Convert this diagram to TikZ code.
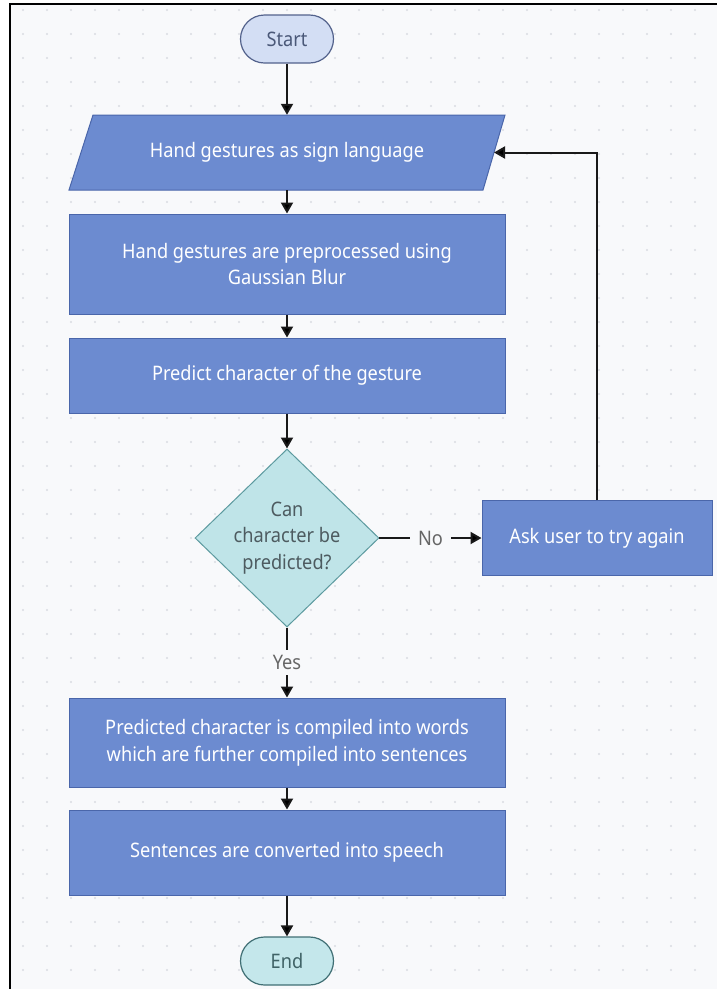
\documentclass[tikz,border=0pt]{standalone}
\usepackage{fontspec}
\setmainfont{Noto Sans}[FakeStretch=0.91]
\usetikzlibrary{shapes.geometric,arrows.meta}

\definecolor{paper}{HTML}{F8F9FB}
\definecolor{griddot}{HTML}{D9DCE2}
\definecolor{procfill}{HTML}{6C8BD0}
\definecolor{procline}{HTML}{4A66AA}
\definecolor{startfill}{HTML}{D3DEF4}
\definecolor{startline}{HTML}{53628C}
\definecolor{starttext}{HTML}{4A5878}
\definecolor{choicefill}{HTML}{BFE4E8}
\definecolor{choiceline}{HTML}{5C9A9F}
\definecolor{choicetext}{HTML}{4D5B60}
\definecolor{endfill}{HTML}{C4E7EB}
\definecolor{endline}{HTML}{406F74}
\definecolor{endtext}{HTML}{3F6266}

\begin{document}
\begin{tikzpicture}[x=1pt,y=-1pt,font=\fontsize{20}{26.7}\selectfont,
  proc/.style={rectangle,draw=procline,fill=procfill,text=white,line width=1pt,
               minimum width=436pt,align=center},
  io/.style={rectangle,text=white,minimum width=436pt,minimum height=75pt},
  term/.style={rectangle,rounded corners=24pt,minimum width=93pt,
               minimum height=48pt,line width=1.2pt},
  choice/.style={diamond,aspect=1.03,inner sep=0pt,minimum width=184pt,
                 minimum height=178pt,draw=choiceline,fill=choicefill,
                 text=choicetext,line width=1pt,align=center},
  lbl/.style={fill=paper,text=black!60,inner xsep=8pt,inner ysep=5pt},
  >={Triangle[length=11pt,width=12pt]}]
\useasboundingbox (0,0) rectangle (717,989);
\fill[white] (0,0) rectangle (717,989);
\fill[paper] (10,4) rectangle (717,989);
\foreach \x in {23,47,...,717}
  \foreach \y in {10,34,...,989}
    \fill[griddot] (\x,\y) circle (1.1pt);
\draw[line width=2.5pt] (10,989) -- (10,4) -- (717,4);

\node[term,draw=startline,fill=startfill,text=starttext] (start) at (287,39) {Start};
% parallelogram drawn round the io node
\path[draw=procline,fill=procfill,line width=1pt]
  (69,190) -- (93,115) -- (505,115) -- (483,190) -- cycle;
\node[io]                      (io)     at (287,152.5) {Hand gestures as sign language};
\coordinate (ioin) at (494,152.5);
\node[proc,minimum height=100pt] (prep) at (287,264)
  {Hand gestures are preprocessed using\\Gaussian Blur};
\node[proc,minimum height=75pt]  (pred) at (287,375.5) {Predict character of the gesture};
\node[choice]                  (dec)    at (287,538) {Can\\character be\\predicted?};
\node[proc,minimum width=230pt,minimum height=75pt] (ask) at (597,538) {Ask user to try again};
\node[proc,minimum height=89pt]  (comp) at (287,742.5)
  {Predicted character is compiled into words\\which are further compiled into sentences};
\node[proc,minimum height=85pt]  (speech) at (287,852.5) {Sentences are converted into speech};
\node[term,draw=endline,fill=endfill,text=endtext] (end) at (287,961) {End};

\path[->,line width=2pt,draw=black!90]
(start)  edge (io)
(io)     edge (prep)
(prep)   edge (pred)
(pred)   edge (dec)
(dec)    edge node[lbl] {No}  (ask)
(dec)    edge node[lbl] {Yes} (comp)
(comp)   edge (speech)
(speech) edge (end)
(ask)    edge[to path={|- (\tikztotarget)}] (ioin)
;
\end{tikzpicture}
\end{document}
